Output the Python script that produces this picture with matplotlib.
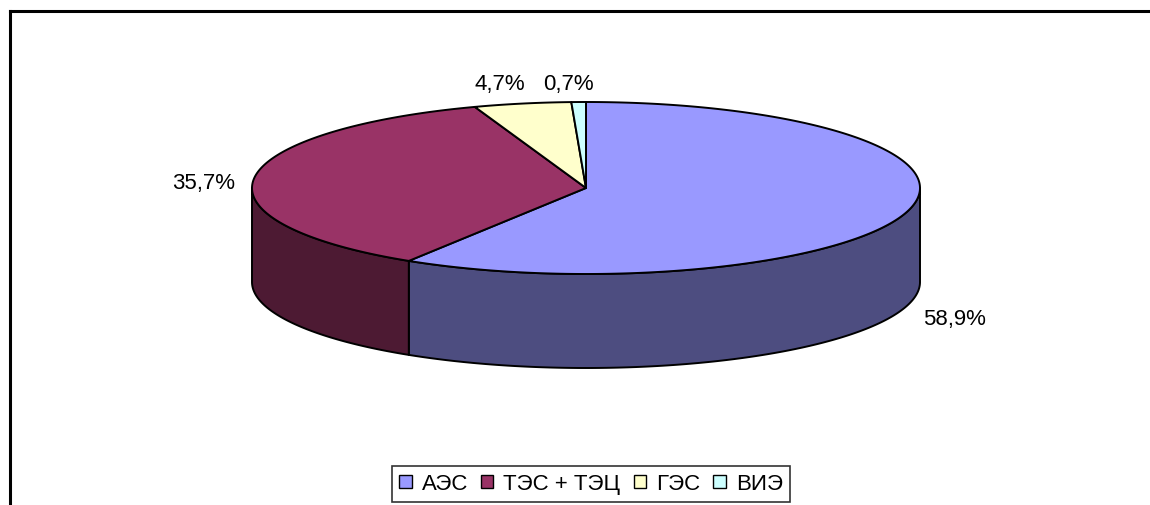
import numpy as np
import matplotlib
matplotlib.use("Agg")
import matplotlib.pyplot as plt
from matplotlib.patches import Polygon, Patch
from matplotlib.lines import Line2D

plt.rcParams['font.family'] = ['Liberation Sans', 'DejaVu Sans']

labels = ["АЭС", "ТЭС + ТЭЦ", "ГЭС", "ВИЭ"]
values = [58.9, 35.7, 4.7, 0.7]
label_texts = ["58,9%", "35,7%", "4,7%", "0,7%"]
top_colors = ["#9999FF", "#993366", "#FFFFCC", "#CCFFFF"]
side_colors = ["#4D4D80", "#4D1A33", "#80806A", "#6A8080"]

W, H = 1150, 506
fig = plt.figure(figsize=(W / 100, H / 100), dpi=100)
ax = fig.add_axes([0, 0, 1, 1])
ax.set_xlim(0, W)
ax.set_ylim(H, 0)
ax.axis("off")

# pie geometry (pixels)
cx, cy = 586, 189
rx, ry = 334, 86
depth = 94

def pt(t):
    r = np.radians(t)
    return cx + rx * np.cos(r), cy - ry * np.sin(r)

total = sum(values)
fracs = np.array(values) / total
cum = np.concatenate([[0], np.cumsum(fracs)])
start = 90.0
spans = [(start - 360 * cum[i + 1], start - 360 * cum[i]) for i in range(len(values))]

# sides (front half: angles in [-180, 0])
for i, (a1, a2) in enumerate(spans):
    for shift in (-360, 0, 360):
        lo = max(a1 + shift, -180)
        hi = min(a2 + shift, 0)
        if hi > lo:
            ts = np.linspace(lo, hi, 200)
            topp = [pt(t) for t in ts]
            bot = [(x, y + depth) for x, y in topp[::-1]]
            poly = Polygon(topp + bot, closed=True, facecolor=side_colors[i],
                           edgecolor="black", linewidth=1.4, joinstyle="round", zorder=2)
            ax.add_patch(poly)

# tops
for i, (a1, a2) in enumerate(spans):
    ts = np.linspace(a1, a2, 300)
    pts = [(cx, cy)] + [pt(t) for t in ts]
    poly = Polygon(pts, closed=True, facecolor=top_colors[i], edgecolor="black",
                   linewidth=1.4, joinstyle="round", zorder=3)
    ax.add_patch(poly)

# data labels
label_pos = [(955, 319), (204, 183), (500, 84), (568, 84)]
for txt, (x, y) in zip(label_texts, label_pos):
    ax.text(x, y, txt, ha="center", va="center", fontsize=16, color="black", zorder=5)

# chart area frame (extends past right/bottom edge)
fig.add_artist(Line2D([9.5 / W, 1.0], [1 - 12 / H, 1 - 12 / H], transform=fig.transFigure,
                      color="black", linewidth=2.2))
fig.add_artist(Line2D([9.5 / W, 9.5 / W], [0, 1 - 12 / H], transform=fig.transFigure,
                      color="black", linewidth=2.2))

handles = [Patch(facecolor=c, edgecolor="black", linewidth=1.0) for c in top_colors]
leg = ax.legend(handles, labels, ncol=4, loc="center",
                bbox_to_anchor=(591 / W, 1 - 485 / H), bbox_transform=fig.transFigure,
                fontsize=16, frameon=True, fancybox=False, edgecolor="black",
                handlelength=0.55, handleheight=0.55, handletextpad=0.45,
                columnspacing=0.6, borderpad=0.35, borderaxespad=0)
leg.get_frame().set_linewidth(1.2)

fig.savefig("out.png", dpi=100)
